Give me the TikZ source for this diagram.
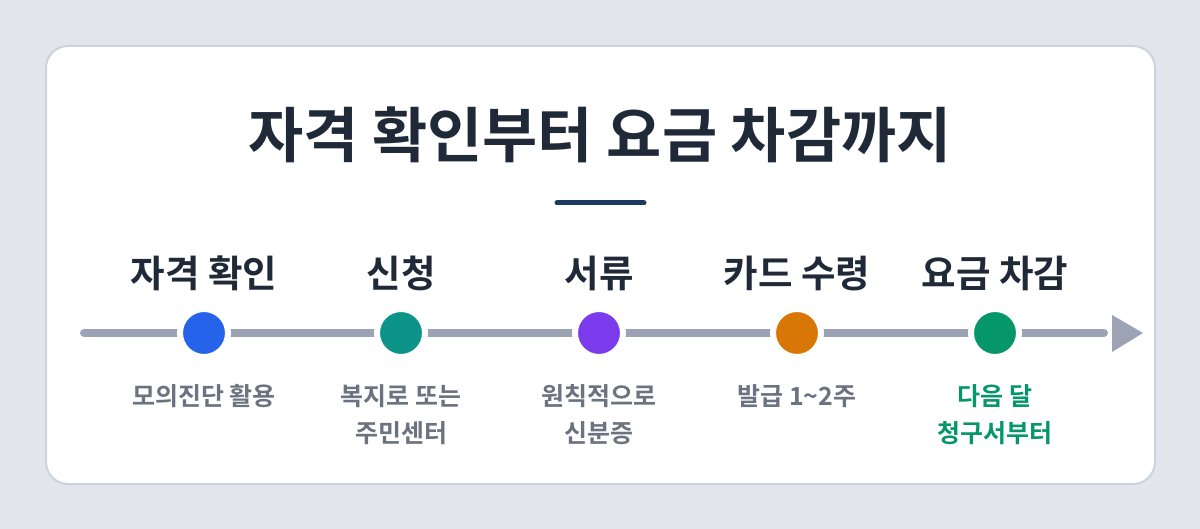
\documentclass[tikz,border=0pt]{standalone}
\usepackage{fontspec}
\setmainfont{Noto Sans CJK KR}
\newfontfamily\krb{Noto Sans CJK KR Bold}
\definecolor{bg}{HTML}{E2E5EC}
\definecolor{cardline}{HTML}{CDD3DC}
\definecolor{ink}{HTML}{1F2937}
\definecolor{navy}{HTML}{1E3A5F}
\definecolor{track}{HTML}{9CA3B4}
\definecolor{sub}{HTML}{6B7280}
\definecolor{cblue}{HTML}{2563EB}
\definecolor{cteal}{HTML}{0D9488}
\definecolor{cpurple}{HTML}{7C3AED}
\definecolor{corange}{HTML}{D97706}
\definecolor{cgreen}{HTML}{059669}
\tikzset{
  dot/.style={circle, minimum size=48pt, inner sep=0pt, line width=6pt, draw=white, fill=#1},
  steplabel/.style={font=\krb\fontsize{37.5}{44}\selectfont, text=ink, anchor=center},
  subtext/.style={font=\krb\fontsize{25}{37}\selectfont, text=sub, align=center, anchor=center},
}
\begin{document}
\begin{tikzpicture}[x=1pt,y=-1pt]
\useasboundingbox (0,0) rectangle (1200,529);
\fill[bg] (0,0) rectangle (1200,529);
\draw[cardline, line width=2pt, fill=white, rounded corners=22pt] (46,46) rectangle (1155,484);
\node[font=\krb\fontsize{60}{66}\selectfont, text=ink] (title) at (600,135) {자격 확인부터 요금 차감까지};
\coordinate (ul1) at (557,203); \coordinate (ul2) at (644,203);
\draw[navy, line width=5pt, line cap=round] (ul1) -- (ul2);
\coordinate (ts) at (84,333); \coordinate (te) at (1104,333);
\draw[track, line width=8pt, line cap=round] (ts) -- (te);
\coordinate (tip) at (1143,333);
\fill[track] (1112,315) -- (tip) -- (1112,352) -- cycle;
\foreach \x/\c/\n in {204/cblue/a, 401/cteal/b, 599/cpurple/c, 797/corange/d, 995/cgreen/e}{
  \node[dot=\c] (\n) at (\x,333) {};
}
\node[steplabel] at (204,273) {자격 확인};
\node[steplabel] at (401,273) {신청};
\node[steplabel] at (599,273) {서류};
\node[steplabel] at (797,273) {카드 수령};
\node[steplabel] at (995,273) {요금 차감};
\node[subtext] at (204,396) {모의진단 활용};
\node[subtext] at (401,415) {복지로 또는\\주민센터};
\node[subtext] at (599,415) {원칙적으로\\신분증};
\node[subtext] at (797,396) {발급 1\textasciitilde2주};
\node[subtext, text=cgreen] at (995,415) {다음 달\\청구서부터};
\end{tikzpicture}
\end{document}
